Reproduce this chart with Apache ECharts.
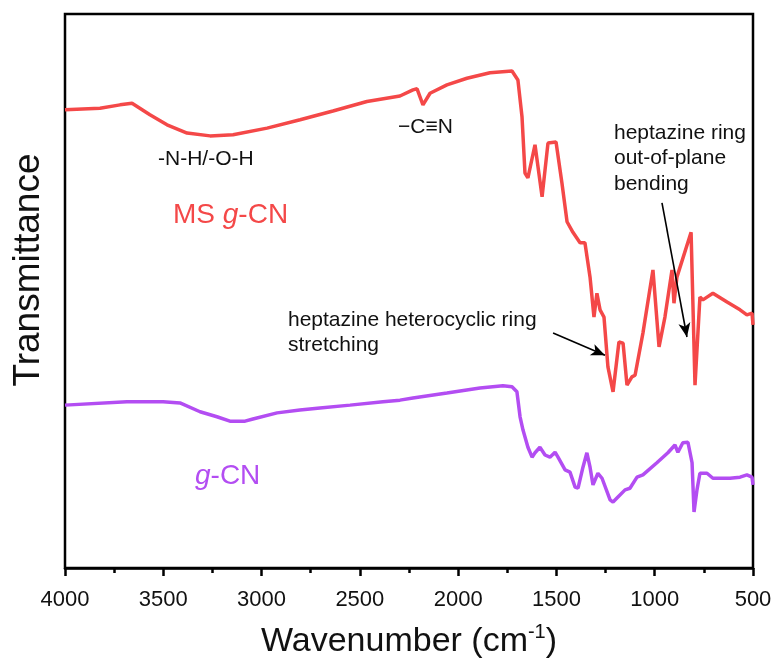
<!DOCTYPE html>
<html>
<head>
<meta charset="utf-8">
<script src="https://cdn.jsdelivr.net/npm/echarts@6/dist/echarts.min.js"></script>
<style>
  html, body { margin: 0; padding: 0; background: #fff; }
  #chart { width: 777px; height: 666px; }
</style>
</head>
<body>
<div id="chart"></div>
<script>
// FTIR spectra: wavenumber (cm-1) and transmittance (arbitrary units, offset per sample)
const waveMS = [4000, 3822, 3720, 3659, 3568, 3481, 3379, 3262, 3145, 2972, 2804, 2637, 2464, 2296,
  2230, 2209, 2179, 2143, 2057, 1955, 1838, 1726, 1696, 1675, 1660, 1645, 1609, 1573, 1543, 1502,
  1472, 1446, 1416, 1380, 1355, 1329, 1309, 1294, 1278, 1258, 1238, 1212, 1182, 1161, 1141, 1116,
  1100, 1060, 1009, 978, 948, 912, 902, 887, 815, 795, 770, 755, 734, 704, 632, 566, 531, 505, 500];
const transMS = [82.7, 83.0, 83.6, 83.9, 81.8, 80.0, 78.5, 78.0, 78.2, 79.4, 80.9, 82.5, 84.2, 85.2,
  86.3, 86.5, 83.6, 85.7, 87.2, 88.4, 89.4, 89.7, 88.1, 81.4, 71.3, 70.4, 76.4, 67.0, 76.7, 76.9,
  69.5, 62.5, 60.6, 58.7, 58.7, 52.5, 45.3, 49.6, 46.6, 45.3, 36.3, 31.8, 40.8, 40.6, 33.0, 34.5,
  34.8, 42.4, 53.8, 39.9, 45.3, 53.8, 47.8, 52.5, 60.6, 33.0, 48.9, 48.4, 48.9, 49.6, 48.0, 46.6, 45.7, 46.0, 43.9];

const waveGCN = [4000, 3685, 3501, 3415, 3313, 3227, 3161, 3084, 3044, 2921, 2805, 2703, 2550, 2382,
  2296, 2230, 2057, 1889, 1772, 1726, 1701, 1685, 1670, 1645, 1624, 1609, 1584, 1558, 1533, 1507,
  1492, 1456, 1431, 1405, 1390, 1365, 1345, 1329, 1314, 1289, 1268, 1227, 1212, 1187, 1151, 1126,
  1090, 1060, 989, 933, 897, 882, 857, 831, 810, 800, 785, 770, 734, 704, 617, 566, 531, 505, 500];
const transGCN = [29.4, 30.0, 30.0, 29.8, 28.2, 27.3, 26.5, 26.5, 26.9, 28.0, 28.5, 28.9, 29.4, 30.0,
  30.3, 30.7, 31.6, 32.5, 32.9, 32.7, 31.8, 27.3, 24.9, 21.8, 20.0, 20.8, 21.8, 20.4, 20.0, 20.9,
  20.0, 17.7, 17.3, 14.6, 14.4, 18.2, 20.8, 18.2, 15.0, 17.1, 16.2, 12.3, 11.9, 12.8, 14.1, 14.4,
  16.4, 16.8, 19.0, 20.8, 22.2, 20.9, 22.6, 22.7, 19.0, 10.1, 14.1, 17.1, 17.1, 16.2, 16.2, 16.4, 16.8, 16.4, 15.0];

// annotation arrows: [wavenumber, transmittance] from tail to head
const arrowRing = [[1517, 42.4], [1253, 38.4]];
const arrowBend = [[963, 65.9], [836, 41.7]];

const xTicks = { min: 500, max: 4000, step: 500 };

const RED = '#F44848';
const PURPLE = '#B34DF2';
const INK = '#111';
const FONT = 'Liberation Sans, Arial, sans-serif';

const pairs = (xs, ys) => xs.map((x, i) => [x, ys[i]]);

const chart = echarts.init(document.getElementById('chart'), null, { renderer: 'canvas' });

chart.setOption({
  backgroundColor: '#fff',
  animation: false,
  grid: {
    left: 65, right: 24, top: 14, bottom: 98,
    outerBoundsMode: 'none', containLabel: false,
    show: true, borderColor: '#000', borderWidth: 2.5
  },
  xAxis: {
    type: 'value',
    inverse: true,
    min: xTicks.min,
    max: xTicks.max,
    interval: xTicks.step,
    axisLine: { show: true, lineStyle: { color: '#000', width: 2.5 } },
    axisTick: { show: true, inside: false, length: 8, lineStyle: { color: '#000', width: 2.5 } },
    minorTick: { show: true, splitNumber: 2, length: 5, lineStyle: { color: '#000', width: 2.5 } },
    splitLine: { show: false },
    minorSplitLine: { show: false },
    axisLabel: { fontSize: 22, color: INK, fontFamily: FONT, margin: 21, formatter: v => String(v) },
    name: '{b|Wavenumber (cm}{s|-1}{b|)}',
    nameLocation: 'middle',
    nameGap: 54,
    nameTextStyle: {
      rich: {
        b: { fontSize: 34, color: INK, fontFamily: FONT, lineHeight: 40 },
        s: { fontSize: 20, color: INK, fontFamily: FONT, verticalAlign: 'top', lineHeight: 40 }
      }
    }
  },
  yAxis: {
    type: 'value',
    min: 0,
    max: 100,
    axisLine: { show: false },
    axisTick: { show: false },
    axisLabel: { show: false },
    splitLine: { show: false }
  },
  series: [
    {
      name: 'MS g-CN',
      type: 'line',
      data: pairs(waveMS, transMS),
      showSymbol: false,
      lineStyle: { color: RED, width: 3.5 },
      itemStyle: { color: RED },
      z: 3,
      markLine: {
        silent: true,
        symbol: ['none', 'arrow'],
        symbolSize: [9, 14],
        lineStyle: { color: '#000', width: 1.6, type: 'solid' },
        label: { show: false },
        data: [
          [{ coord: arrowRing[0] }, { coord: arrowRing[1] }],
          [{ coord: arrowBend[0] }, { coord: arrowBend[1] }]
        ]
      }
    },
    {
      name: 'g-CN',
      type: 'line',
      data: pairs(waveGCN, transGCN),
      showSymbol: false,
      lineStyle: { color: PURPLE, width: 3.5 },
      itemStyle: { color: PURPLE },
      z: 3
    }
  ],
  graphic: [
    {
      type: 'text', x: 29, y: 270, rotation: Math.PI / 2,
      style: { text: 'Transmittance', fontSize: 37, fontFamily: FONT, fill: INK, align: 'center', verticalAlign: 'middle' }
    },
    {
      type: 'text', x: 158, y: 159,
      style: { text: '-N-H/-O-H', fontSize: 21, fontFamily: FONT, fill: INK, align: 'left', verticalAlign: 'middle' }
    },
    {
      type: 'text', x: 398, y: 127,
      style: { text: '\u2212C\u2261N', fontSize: 21, fontFamily: FONT, fill: INK, align: 'left', verticalAlign: 'middle' }
    },
    {
      type: 'text', x: 173, y: 215,
      style: {
        text: '{n|MS }{i|g}{n|-CN}', align: 'left', verticalAlign: 'middle',
        rich: {
          n: { fontSize: 28, fontFamily: FONT, fill: RED },
          i: { fontSize: 28, fontFamily: FONT, fill: RED, fontStyle: 'italic' }
        }
      }
    },
    {
      type: 'text', x: 195, y: 476,
      style: {
        text: '{i|g}{n|-CN}', align: 'left', verticalAlign: 'middle',
        rich: {
          n: { fontSize: 28, fontFamily: FONT, fill: PURPLE },
          i: { fontSize: 28, fontFamily: FONT, fill: PURPLE, fontStyle: 'italic' }
        }
      }
    },
    {
      type: 'text', x: 288, y: 308,
      style: { text: 'heptazine heterocyclic ring\nstretching', fontSize: 21, lineHeight: 25, fontFamily: FONT, fill: INK, align: 'left', verticalAlign: 'top' }
    },
    {
      type: 'text', x: 614, y: 120,
      style: { text: 'heptazine ring\nout-of-plane\nbending', fontSize: 21, lineHeight: 25.5, fontFamily: FONT, fill: INK, align: 'left', verticalAlign: 'top' }
    }
  ]
});
</script>
</body>
</html>
